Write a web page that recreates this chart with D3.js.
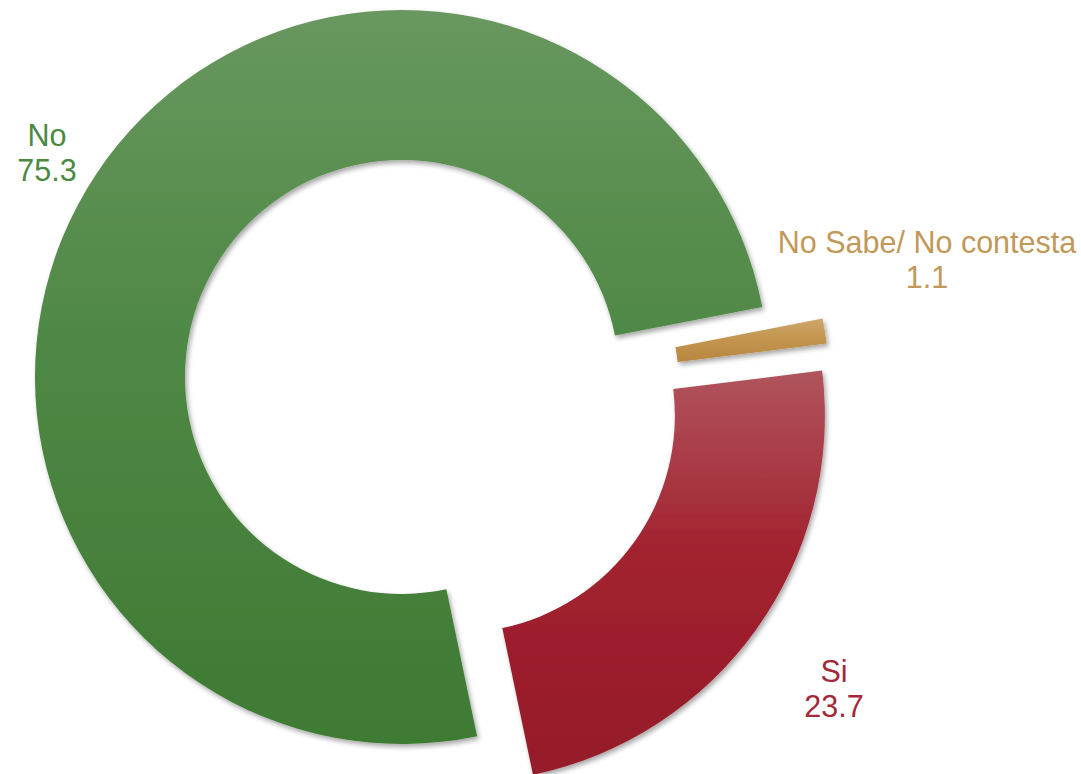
<!DOCTYPE html>
<html>
<head>
<meta charset="utf-8">
<script src="https://cdn.jsdelivr.net/npm/d3@7"></script>
<style>
  html, body { margin: 0; padding: 0; background: #ffffff; }
  svg { display: block; }
</style>
</head>
<body>
<svg id="chart" width="1081" height="774"></svg>
<script>
// ---- data ----
const categories = ["No Sabe/ No contesta", "Si", "No"];
const values = [1.1, 23.7, 75.3];
const valueLabels = ["1.1", "23.7", "75.3"];

// ---- styling / layout ----
const colorsTop    = ["#cea66b", "#b0545d", "#68975f"];
const colorsMid    = ["#c39650", "#a2222f", "#4f8845"];
const colorsBottom = ["#b8863f", "#951a2a", "#3e7a33"];
const textColors   = ["#c29858", "#a2283a", "#4a893f"];
const explodeBy    = [35, 37, 31];
const center = [427.8, 394.1];
const outerR = 367, innerR = 217;
const startDeg = 79;
const labelPos = [[927, 253], [834, 682], [47, 146]];
const lineGap = 35;

const svg = d3.select("#chart");
const defs = svg.append("defs");

const f = defs.append("filter").attr("id", "shadow")
  .attr("x", "-20%").attr("y", "-20%").attr("width", "140%").attr("height", "140%");
f.append("feDropShadow").attr("dx", 2).attr("dy", 3).attr("stdDeviation", 2.5)
  .attr("flood-color", "#000").attr("flood-opacity", 0.35);

values.forEach((v, i) => {
  const g = defs.append("linearGradient").attr("id", "grad" + i)
    .attr("x1", 0).attr("y1", 0).attr("x2", 0).attr("y2", 1);
  g.append("stop").attr("offset", "0%").attr("stop-color", colorsTop[i]);
  g.append("stop").attr("offset", "45%").attr("stop-color", colorsMid[i]);
  g.append("stop").attr("offset", "100%").attr("stop-color", colorsBottom[i]);
});

const start = startDeg * Math.PI / 180;
const pie = d3.pie().sort(null).value(d => d)
  .startAngle(start).endAngle(start + 2 * Math.PI);
const arcs = pie(values);
const arc = d3.arc().innerRadius(innerR).outerRadius(outerR);

const root = svg.append("g").attr("transform", `translate(${center[0]},${center[1]})`);

root.selectAll("path.slice")
  .data(arcs)
  .join("path")
  .attr("class", "slice")
  .attr("transform", (d, i) => {
    const mid = (d.startAngle + d.endAngle) / 2;
    const e = explodeBy[i];
    return `translate(${Math.sin(mid) * e},${-Math.cos(mid) * e})`;
  })
  .attr("d", arc)
  .attr("fill", (d, i) => `url(#grad${i})`)
  .attr("filter", "url(#shadow)");

const labels = svg.append("g")
  .attr("font-family", "'Liberation Sans', Arial, sans-serif")
  .attr("font-size", 30.5)
  .attr("text-anchor", "middle");

categories.forEach((c, i) => {
  const t = labels.append("text")
    .attr("x", labelPos[i][0]).attr("y", labelPos[i][1])
    .attr("fill", textColors[i]);
  t.append("tspan").attr("x", labelPos[i][0]).text(c);
  t.append("tspan").attr("x", labelPos[i][0]).attr("dy", lineGap).text(valueLabels[i]);
});
</script>
</body>
</html>
